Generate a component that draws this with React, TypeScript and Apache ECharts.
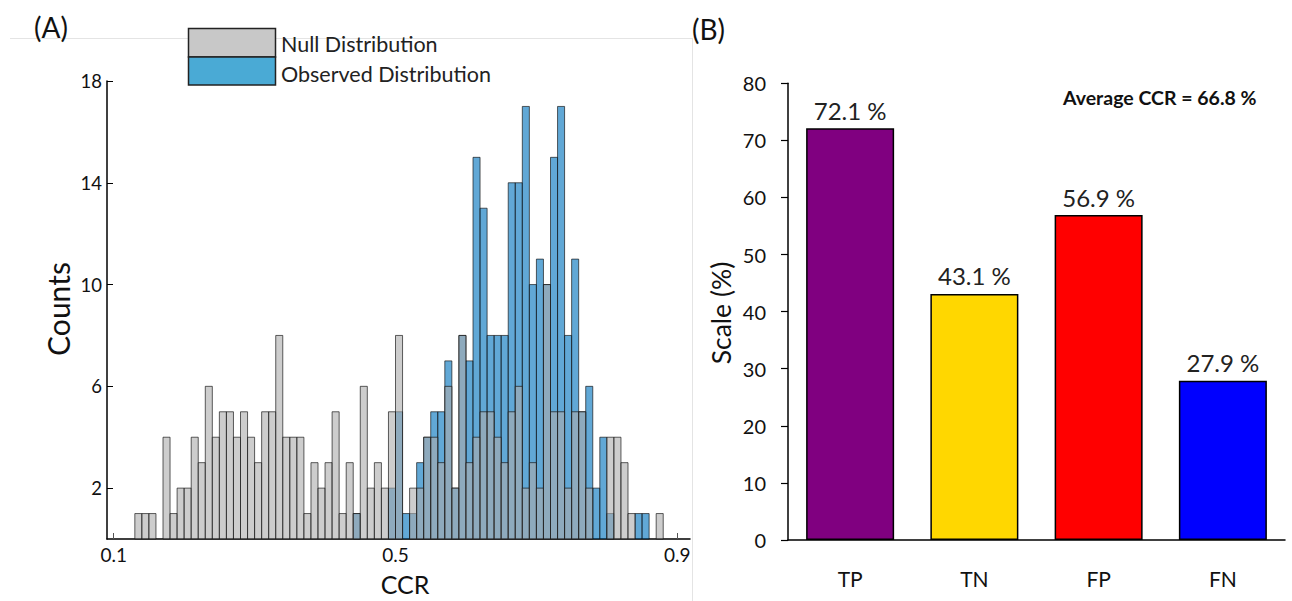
import React, { useEffect, useRef } from "react";
import * as echarts from "echarts";

// ---------- Data ----------
// Histogram bins: left edges start at 0.13, width 0.01 (75 bins, 0.13 .. 0.87)
const BIN_START = 0.13;
const BIN_WIDTH = 0.01;
const nullCounts = [
  1, 1, 1, 0, 4, 1, 2, 2, 4, 3, 6, 4, 5, 5, 4, 5, 4, 3, 5, 5, 8, 4, 4, 4, 1,
  3, 2, 3, 5, 1, 3, 1, 6, 2, 3, 2, 5, 8, 0, 2, 2, 4, 4, 3, 6, 2, 8, 3, 4, 5,
  5, 4, 3, 5, 6, 2, 3, 2, 10, 5, 5, 2, 5, 5, 2, 0, 0, 4, 4, 3, 1, 0, 0, 0, 1,
];
const observedCounts = [
  0, 0, 0, 0, 0, 0, 0, 0, 0, 0, 0, 0, 0, 0, 0, 0, 0, 0, 0, 0, 0, 0, 0, 0, 0,
  0, 0, 0, 0, 0, 0, 1, 0, 0, 0, 0, 2, 5, 1, 1, 3, 4, 5, 5, 7, 2, 8, 7, 15, 13,
  8, 8, 8, 14, 14, 17, 10, 11, 10, 15, 17, 8, 11, 5, 6, 2, 4, 1, 0, 0, 0, 1, 1, 0, 0,
];
const histXTicks = [0.1, 0.5, 0.9];
const histYTicks = [2, 6, 10, 14, 18];

const rateCategories = ["TP", "TN", "FP", "FN"];
const rateValues = [72.1, 43.1, 56.9, 27.9];
const rateColors = ["#800080", "#FFD700", "#FF0000", "#0000FF"];
const averageCCR = 66.8;

const FONT = "Lato, 'Noto Sans', sans-serif";

function binData(counts: number[]) {
  const out: number[][] = [];
  counts.forEach((c, i) => {
    if (c > 0) {
      const x0 = +(BIN_START + i * BIN_WIDTH).toFixed(4);
      out.push([x0, +(x0 + BIN_WIDTH).toFixed(4), c]);
    }
  });
  return out;
}

function histRender(fill: string) {
  return (params: any, api: any) => {
    const p0 = api.coord([api.value(0), api.value(2)]);
    const p1 = api.coord([api.value(1), 0]);
    return {
      type: "rect",
      shape: { x: p0[0], y: p0[1], width: p1[0] - p0[0], height: p1[1] - p0[1] },
      style: { fill, stroke: "rgba(20,20,20,0.75)", lineWidth: 0.9 },
    };
  };
}

export default function App() {
  const ref = useRef<HTMLDivElement>(null);

  useEffect(() => {
    if (!ref.current) return;
    const chart = echarts.init(ref.current, undefined, { renderer: "svg" });

    const option: any = {
      animation: false,
      backgroundColor: "#ffffff",
      textStyle: { fontFamily: FONT },
      grid: [
        { left: 107, top: 81, width: 583, height: 458 },
        { left: 788, top: 83.2, width: 497, height: 456.8 },
      ],
      xAxis: [
        {
          type: "value",
          gridIndex: 0,
          min: 0.0905,
          max: 0.918,
          splitLine: { show: false },
          axisLine: { show: true, lineStyle: { color: "#000", width: 1.5 } },
          axisTick: {
            show: true,
            inside: true,
            length: 6,
            customValues: histXTicks,
            lineStyle: { color: "#555" },
          },
          axisLabel: {
            customValues: histXTicks,
            formatter: (v: number) => v.toFixed(1),
            fontSize: 19,
            color: "#111",
            margin: 6,
            fontFamily: FONT,
          },
        },
        {
          type: "category",
          gridIndex: 1,
          data: rateCategories,
          axisLine: { show: true, lineStyle: { color: "#000", width: 1.5 } },
          axisTick: { show: false },
          axisLabel: { fontSize: 21, color: "#111", margin: 28, fontFamily: FONT },
        },
      ],
      yAxis: [
        {
          type: "value",
          gridIndex: 0,
          min: 0,
          max: 18,
          splitLine: { show: false },
          axisLine: { show: true, lineStyle: { color: "#000", width: 1.5 } },
          axisTick: {
            show: true,
            inside: true,
            length: 6,
            customValues: histYTicks,
            lineStyle: { color: "#000" },
          },
          axisLabel: {
            customValues: histYTicks,
            fontSize: 18.5,
            color: "#111",
            margin: 5,
            fontFamily: FONT,
          },
        },
        {
          type: "value",
          gridIndex: 1,
          min: 0,
          max: 80,
          interval: 10,
          splitLine: { show: false },
          axisLine: { show: true, lineStyle: { color: "#000", width: 1.5 } },
          axisTick: { show: true, inside: false, length: 7, lineStyle: { color: "#000", width: 1.2 } },
          axisLabel: { fontSize: 20, color: "#111", margin: 22, fontFamily: FONT },
        },
      ],
      series: [
        {
          name: "Observed Distribution",
          type: "custom",
          xAxisIndex: 0,
          yAxisIndex: 0,
          renderItem: histRender("rgba(0,114,189,0.62)"),
          encode: { x: [0, 1], y: 2 },
          data: binData(observedCounts),
        },
        {
          name: "Null Distribution",
          type: "custom",
          xAxisIndex: 0,
          yAxisIndex: 0,
          renderItem: histRender("rgba(171,171,171,0.6)"),
          encode: { x: [0, 1], y: 2 },
          data: binData(nullCounts),
        },
        {
          type: "bar",
          xAxisIndex: 1,
          yAxisIndex: 1,
          barWidth: 88,
          data: rateValues.map((v, i) => ({
            value: v,
            itemStyle: { color: rateColors[i], borderColor: "#000", borderWidth: 1.5 },
          })),
          label: {
            show: true,
            position: "top",
            distance: 6,
            formatter: (p: any) => `${p.value.toFixed(1)} %`,
            fontSize: 24,
            color: "#222",
            fontFamily: FONT,
          },
        },
      ],
      graphic: [
        // faint panel border lines
        { type: "line", shape: { x1: 10, y1: 38.5, x2: 692, y2: 38.5 }, style: { stroke: "#e4e4e4", lineWidth: 1 } },
        { type: "line", shape: { x1: 692.5, y1: 38, x2: 692.5, y2: 601 }, style: { stroke: "#e4e4e4", lineWidth: 1 } },
        // panel letters
        { type: "text", x: 34, y: 27, style: { text: "(A)", fontSize: 28, fill: "#111", fontFamily: FONT, textVerticalAlign: "middle" } },
        { type: "text", x: 692, y: 29, style: { text: "(B)", fontSize: 28, fill: "#111", fontFamily: FONT, textVerticalAlign: "middle" } },
        // legend
        { type: "rect", shape: { x: 188.5, y: 28.5, width: 87, height: 28.5 }, style: { fill: "#c8c8c8", stroke: "#222", lineWidth: 1.5 } },
        { type: "rect", shape: { x: 188.5, y: 57, width: 87, height: 28 }, style: { fill: "#4aaad5", stroke: "#222", lineWidth: 1.5 } },
        { type: "text", x: 281, y: 43.5, style: { text: "Null Distribution", fontSize: 21.5, fill: "#222", fontFamily: FONT, textVerticalAlign: "middle" } },
        { type: "text", x: 281, y: 73.5, style: { text: "Observed Distribution", fontSize: 21.5, fill: "#222", fontFamily: FONT, textVerticalAlign: "middle" } },
        // axis titles
        { type: "text", x: 58, y: 309, rotation: Math.PI / 2, style: { text: "Counts", fontSize: 30, fill: "#111", fontFamily: FONT, textAlign: "center", textVerticalAlign: "middle" } },
        { type: "text", x: 405, y: 584, style: { text: "CCR", fontSize: 25, fill: "#111", fontFamily: FONT, textAlign: "center", textVerticalAlign: "middle" } },
        { type: "text", x: 721, y: 313, rotation: Math.PI / 2, style: { text: "Scale (%)", fontSize: 26.5, fill: "#111", fontFamily: FONT, textAlign: "center", textVerticalAlign: "middle" } },
        { type: "text", x: 1063, y: 97, style: { text: `Average CCR = ${averageCCR.toFixed(1)} %`, fontSize: 19.5, fontWeight: "bold", fill: "#111", fontFamily: FONT, textVerticalAlign: "middle" } },
      ],
    };

    chart.setOption(option);
    return () => chart.dispose();
  }, []);

  return (
    <div
      ref={ref}
      style={{ position: "fixed", left: 0, top: 0, width: 1292, height: 601, background: "#fff" }}
    />
  );
}
